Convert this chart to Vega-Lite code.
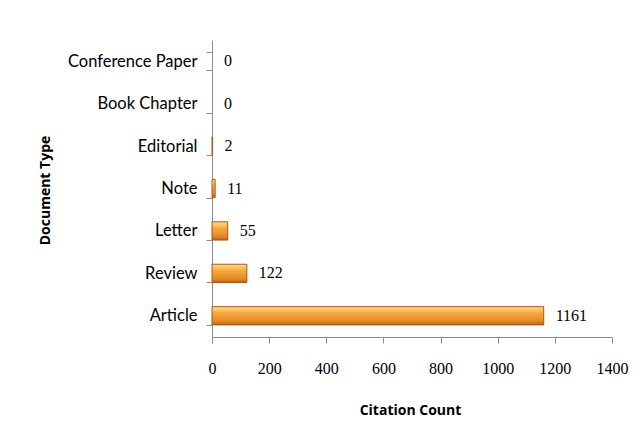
{
  "$schema": "https://vega.github.io/schema/vega-lite/v6.json",
  "width": 400,
  "height": 297,
  "autosize": {"type": "none"},
  "padding": {"left": 212, "top": 40, "right": 28, "bottom": 103},
  "background": "white",
  "config": {"view": {"stroke": null}},
  "data": {"values": [
    {"type": "Conference Paper", "count": 0},
    {"type": "Book Chapter", "count": 0},
    {"type": "Editorial", "count": 2},
    {"type": "Note", "count": 11},
    {"type": "Letter", "count": 55},
    {"type": "Review", "count": 122},
    {"type": "Article", "count": 1161}
  ]},
  "encoding": {
    "y": {
      "field": "type", "type": "nominal", "sort": null,
      "scale": {"paddingInner": 0.57, "paddingOuter": 0.285},
      "axis": {
        "title": "Document Type", "titleFont": "Open Sans", "titleFontSize": 14, "titleFontWeight": "bold", "titleColor": "#000",
        "titleX": -167, "titleY": 150, "titleAngle": -90, "titleAlign": "center", "titleBaseline": "middle",
        "labelFont": "Lato", "labelFontSize": 16.5, "labelColor": "#000",
        "tickBand": "extent", "tickSize": 6, "tickColor": "#8c8c8c", "domainColor": "#8c8c8c",
        "labelPadding": 9, "grid": false
      }
    },
    "x": {
      "field": "count", "type": "quantitative",
      "scale": {"domain": [0, 1400], "nice": false},
      "axis": {
        "title": "Citation Count", "titleFont": "Open Sans", "titleFontSize": 14, "titleFontWeight": "bold", "titleColor": "#000",
        "titleX": 198, "titleY": 73, "titleAlign": "center", "titleBaseline": "middle",
        "values": [0, 200, 400, 600, 800, 1000, 1200, 1400], "format": "d",
        "labelFont": "Liberation Serif", "labelFontSize": 16, "labelColor": "#000", "labelBaseline": "top",
        "tickSize": 6, "tickColor": "#8c8c8c", "domainColor": "#8c8c8c",
        "labelPadding": 17, "grid": false, "labelFlush": false, "labelOverlap": false
      }
    }
  },
  "layer": [
    {
      "mark": {
        "type": "bar",
        "stroke": "#a8561a",
        "color": {
          "gradient": "linear", "x1": 0, "y1": 0, "x2": 0, "y2": 1,
          "stops": [
            {"offset": 0, "color": "#fde08e"},
            {"offset": 0.35, "color": "#f6a93e"},
            {"offset": 0.8, "color": "#e48a23"},
            {"offset": 1, "color": "#b9621a"}
          ]
        }
      },
      "encoding": {
        "strokeWidth": {"condition": {"test": "datum.count > 0", "value": 1}, "value": 0}
      }
    },
    {
      "mark": {"type": "text", "align": "left", "baseline": "middle", "dx": 12, "font": "Liberation Serif", "fontSize": 16, "color": "#000"},
      "encoding": {"text": {"field": "count", "type": "quantitative", "format": "d"}}
    }
  ]
}
